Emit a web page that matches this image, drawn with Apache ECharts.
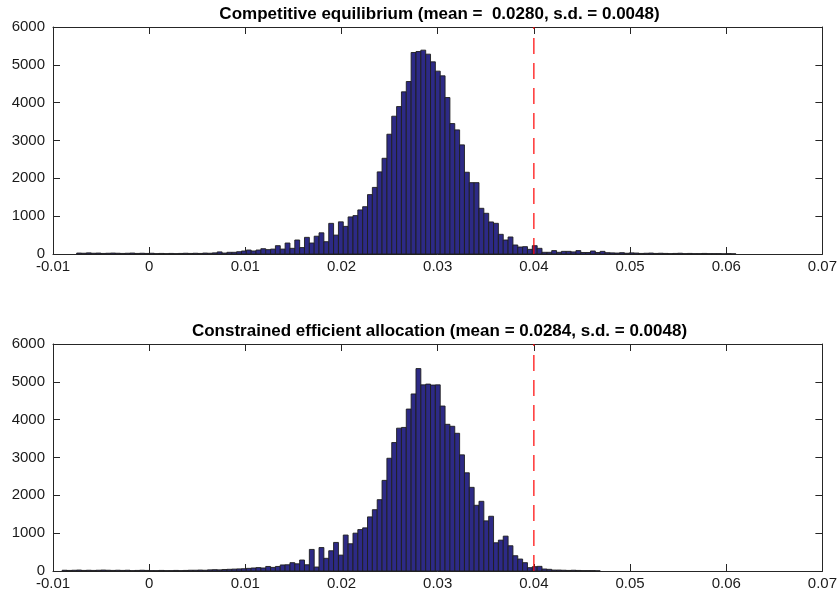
<!DOCTYPE html>
<html>
<head>
<meta charset="utf-8">
<script src="https://cdn.jsdelivr.net/npm/echarts@6/dist/echarts.min.js"></script>
<style>
html, body { margin: 0; padding: 0; background: #fff; }
#chart { width: 840px; height: 594px; }
</style>
</head>
<body>
<div id="chart"></div>
<script>
// histogram bins (left edge of first bin, bin width)
var binStart = -0.00905;
var binWidth = 0.000504;

// competitive equilibrium counts, one per bin
var ceCounts = [
  0, 0, 0,
  25, 20, 30, 20, 25, 15, 20, 25, 20, 15, 20, 25, 15, 20, 15, 20,
  10, 15, 10, 15, 10, 15, 20, 15, 20, 15, 25, 20, 30,
  55, 25, 45, 45, 60,
  80, 105, 80, 105, 140, 115, 130, 220, 130, 290,
  150, 370, 170, 440, 290, 470, 560, 325, 810, 500,
  850, 730, 980, 1015, 1165, 1250, 1570, 1760, 2170, 2530,
  3166, 3642, 3897, 4286, 4559, 5326, 5352, 5388, 5282, 5079,
  4833, 4709, 4135, 3447, 3280, 2884, 2161, 1886, 1886, 1208,
  1076, 847, 811, 520, 370, 450, 238, 185, 194, 123,
  220, 150, 45, 45, 90, 45, 70, 70, 55, 90,
  40, 40, 80, 40, 70,
  35, 30, 25, 35, 20, 30, 25, 15, 20, 25, 15, 20, 15, 10, 15, 20,
  10, 15, 10, 10, 15, 10, 10, 10, 5, 10, 5
];

// constrained efficient allocation counts, one per bin
var seCounts = [
  20, 15, 20,
  25, 15, 20, 15, 20, 25, 20, 15, 20, 15, 20, 10, 15, 20, 15, 10,
  10, 15, 10, 10, 15, 10, 15, 20, 20, 25, 20, 30, 35, 30, 40, 45, 50, 55,
  60, 70, 80, 90, 80, 120, 95, 120, 160, 165,
  220, 190, 290, 165, 570, 105, 620, 335, 535, 755,
  420, 950, 720, 1000, 1095, 1140, 1430, 1620, 1885, 2395,
  2980, 3395, 3775, 3795, 4280, 4680, 5350, 4920, 4940, 4915,
  4920, 4360, 3877, 3825, 3640, 3070, 2596, 2211, 1737, 1842,
  1325, 1447, 746, 816, 921, 667, 404, 316, 220, 88,
  114, 123, 53, 44, 25, 25, 20, 15, 20, 15,
  10, 10, 10, 5
];

var xTicks = [-0.01, 0, 0.01, 0.02, 0.03, 0.04, 0.05, 0.06, 0.07];
var yTicks = [0, 1000, 2000, 3000, 4000, 5000, 6000];
var refLineX = 0.04;
var panelTitles = [
  'Competitive equilibrium (mean =  0.0280, s.d. = 0.0048)',
  'Constrained efficient allocation (mean = 0.0284, s.d. = 0.0048)'
];

var font = '"Liberation Sans", Arial, Helvetica, sans-serif';
var axisColor = '#262626';
var grids = [
  { left: 53, top: 27, width: 773, height: 227 },
  { left: 53, top: 344, width: 773, height: 227 }
];

function histData(counts) {
  var out = [];
  for (var i = 0; i < counts.length; i++) {
    if (!counts[i]) continue;
    var x0 = binStart + i * binWidth;
    out.push([x0, x0 + binWidth, counts[i]]);
  }
  return out;
}

function renderBar(params, api) {
  var p0 = api.coord([api.value(0), api.value(2)]);
  var p1 = api.coord([api.value(1), 0]);
  return {
    type: 'rect',
    shape: { x: p0[0], y: p0[1], width: p1[0] - p0[0], height: p1[1] - p0[1] },
    style: { fill: '#2d2a86', stroke: '#1e1e1e', lineWidth: 0.9 }
  };
}

var xAxes = [], yAxes = [], series = [], graphics = [];
grids.forEach(function (g, gi) {
  // bottom + top x axes
  ['bottom', 'top'].forEach(function (pos) {
    xAxes.push({
      type: 'value', gridIndex: gi, position: pos,
      min: xTicks[0], max: xTicks[xTicks.length - 1], interval: 0.01,
      axisLine: { show: true, onZero: false, lineStyle: { color: axisColor, width: 1 } },
      axisTick: { show: true, inside: true, length: 7, lineStyle: { color: axisColor } },
      axisLabel: {
        show: pos === 'bottom', margin: 5, color: '#1a1a1a', fontSize: 15, fontFamily: font,
        formatter: function (v) { return String(+v.toFixed(2)); }
      },
      splitLine: { show: false }
    });
  });
  // left + right y axes
  ['left', 'right'].forEach(function (pos) {
    yAxes.push({
      type: 'value', gridIndex: gi, position: pos,
      min: yTicks[0], max: yTicks[yTicks.length - 1], interval: 1000,
      axisLine: { show: true, onZero: false, lineStyle: { color: axisColor, width: 1 } },
      axisTick: { show: true, inside: true, length: 7, lineStyle: { color: axisColor } },
      axisLabel: {
        show: pos === 'left', margin: 8, color: '#1a1a1a', fontSize: 15, fontFamily: font,
        formatter: function (v) { return String(v); }
      },
      splitLine: { show: false }
    });
  });

  series.push({
    type: 'custom',
    xAxisIndex: gi * 2, yAxisIndex: gi * 2,
    renderItem: renderBar,
    encode: { x: [0, 1], y: 2 },
    data: histData(gi === 0 ? ceCounts : seCounts),
    silent: true,
    z: 2
  });
  series.push({
    type: 'line',
    xAxisIndex: gi * 2, yAxisIndex: gi * 2,
    data: [[refLineX, yTicks[0]], [refLineX, yTicks[yTicks.length - 1]]],
    symbol: 'none',
    lineStyle: { color: '#ff0000', width: 1.2, type: [16, 9] },
    silent: true,
    z: 3
  });

  graphics.push({
    type: 'text',
    x: g.left + g.width / 2,
    y: g.top - 13,
    style: {
      text: panelTitles[gi],
      fill: '#000', font: 'bold 17px ' + font,
      textAlign: 'center', textVerticalAlign: 'middle'
    }
  });
});

var chart = echarts.init(document.getElementById('chart'), null, { renderer: 'canvas' });
chart.setOption({
  animation: false,
  backgroundColor: '#fff',
  grid: grids,
  xAxis: xAxes,
  yAxis: yAxes,
  series: series,
  graphic: graphics
});
</script>
</body>
</html>
